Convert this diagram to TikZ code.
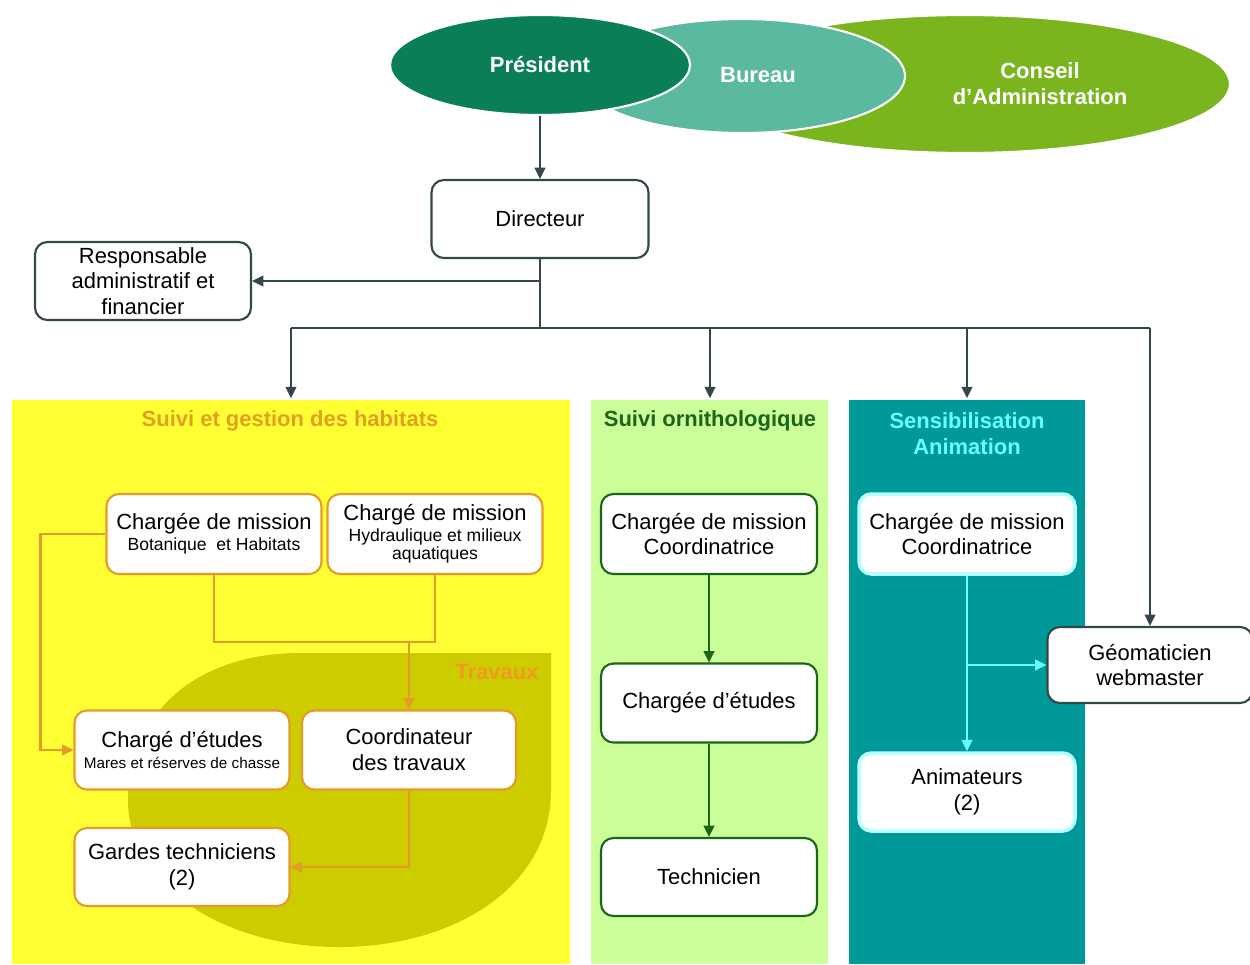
\documentclass[tikz,border=0pt]{standalone}
\usepackage{fontspec}
\setmainfont{Liberation Sans}
\usetikzlibrary{shapes.geometric,arrows.meta}

\definecolor{presgreen}{HTML}{0A7F56}
\definecolor{bureauteal}{HTML}{5BB9A0}
\definecolor{conseilgreen}{HTML}{7AB51E}
\definecolor{slate}{HTML}{32474A}
\definecolor{habyellow}{HTML}{FFFF33}
\definecolor{travolive}{HTML}{CCCC00}
\definecolor{habor}{HTML}{E59A2A}
\definecolor{habtitle}{HTML}{E3A020}
\definecolor{travor}{HTML}{F09A20}
\definecolor{ornlight}{HTML}{CCFF99}
\definecolor{orndark}{HTML}{1C661C}
\definecolor{sensteal}{HTML}{009999}
\definecolor{senscyan}{HTML}{66FFFF}
\definecolor{sensglow}{HTML}{B8FFFF}

\newcommand{\subline}[1]{{\fontsize{10}{12}\selectfont #1}}
\newcommand{\tinyline}[1]{{\fontsize{8.7}{10}\selectfont #1}}

\begin{document}
\begin{tikzpicture}[x=0.02cm,y=-0.02cm,
    font=\fontsize{12.5}{14.7}\selectfont,
    orgbox/.style={draw=slate,fill=white,line width=1.2pt,rounded corners=7pt,
      align=center,minimum width=4.32cm,minimum height=1.58cm,inner sep=2pt},
    habbox/.style={orgbox,draw=habor},
    ornbox/.style={orgbox,draw=orndark},
    sensbox/.style={orgbox,draw=sensglow,line width=2pt},
    boss/.style={ellipse,draw=white,line width=1.2pt,inner sep=0pt},
    panel/.style={anchor=north,minimum height=11.28cm,inner sep=0pt},
    title/.style={font=\fontsize{12.5}{14.7}\selectfont\bfseries,align=center},
    link/.style={draw=slate,line width=1.3pt,-{Triangle[length=6.5pt,width=6pt]}},
    bus/.style={draw=slate,line width=1.3pt},
    hablink/.style={link,draw=habor},
    habbus/.style={bus,draw=habor},
    ornlink/.style={link,draw=orndark},
    senslink/.style={link,draw=senscyan}]
  \useasboundingbox (0,0) rectangle (1250,964);

  % bureau, conseil, president
  \node[boss,fill=conseilgreen,minimum width=10.6cm,minimum height=2.76cm] (conseil) at (965,84) {};
  \node[boss,fill=bureauteal,minimum width=6.52cm,minimum height=2.28cm] (bureau) at (742,76) {};
  \node[boss,fill=presgreen,minimum width=6cm,minimum height=2cm,text=white,font=\fontsize{12.5}{14.7}\selectfont\bfseries] (president) at (540,65) {Président};
  \node[title,text=white] (bureautxt) at (758,75) {Bureau};
  \node[title,text=white] (conseiltxt) at (1040,84) {Conseil\\d'Administration};

  \node[orgbox,minimum width=4.34cm,minimum height=1.56cm] (dir) at (540,219) {Directeur};
  \node[orgbox,minimum height=1.56cm] (resp) at (143,281) {Responsable\\administratif et\\financier};

  % the three teams
  \node[panel,fill=habyellow,minimum width=11.16cm] (phab) at (291,400) {};
  \node[panel,fill=ornlight,minimum width=4.74cm] (porn) at (709.5,400) {};
  \node[panel,fill=sensteal,minimum width=4.72cm] (psens) at (967,400) {};

  \fill[travolive] (551,653) -- (551,790) .. controls (551,890) and (450,947) .. (340,947)
    .. controls (215,947) and (128,880) .. (128,800)
    .. controls (128,715) and (195,653) .. (300,653) -- cycle;

  \node[title,text=habtitle] (thab) at (290,421) {Suivi et gestion des habitats};
  \node[title,text=orndark] (torn) at (710,421) {Suivi ornithologique};
  \node[title,text=senscyan] (tsens) at (967,434) {Sensibilisation\\Animation};
  \node[title,text=travor] (travaux) at (497,672) {Travaux};

  \node[orgbox,minimum width=4.1cm,minimum height=1.52cm] (geo) at (1150,665) {Géomaticien\\webmaster};

  % arrows from the top
  \draw[link] (president.south) -- (dir.north);
  \draw[link] (dir.south) |- (resp.east);
  \coordinate (hub) at (540,328);
  \draw[bus] (dir.south) -- (hub);
  \draw[bus] (hub -| phab.north) -- (hub -| geo.north);
  \draw[link] (hub -| phab.north) -- ([yshift=1pt]phab.north);
  \draw[link] (hub -| 710,0) -- ([yshift=1pt]porn.north -| 710,0);
  \draw[link] (hub -| psens.north) -- ([yshift=1pt]psens.north);
  \draw[link] (hub -| geo.north) -- (geo.north);

  % habitats
  \node[habbox,minimum width=4.3cm,minimum height=1.6cm] (cmbot) at (214,534)
    {Chargée de mission\\[-3pt]\subline{Botanique\ \ et Habitats}};
  \node[habbox,minimum width=4.3cm,minimum height=1.6cm] (cmhyd) at (435,534)
    {Chargé de mission\\[-3pt]\subline{Hydraulique et milieux}\\[-4pt]\subline{aquatiques}};
  \node[habbox,minimum width=4.3cm] (ce) at (182,750)
    {Chargé d'études\\[-3pt]\tinyline{Mares et réserves de chasse}};
  \node[habbox,minimum width=4.28cm] (coord) at (409,750) {Coordinateur\\des travaux};
  \node[habbox,minimum width=4.3cm,minimum height=1.56cm] (gardes) at (182,867) {Gardes techniciens\\(2)};

  \draw[habbus] (cmbot.south) -- ++(0,67) coordinate (hbar) -| (cmhyd.south);
  \draw[hablink] (hbar -| coord.north) -- (coord.north);
  \draw[hablink] (cmbot.west) -- ++(-65,0) |- (ce.west);
  \draw[hablink] (coord.south) |- (gardes.east);

  % ornithologie
  \node[ornbox,minimum height=1.6cm] (ornco) at (709,534) {Chargée de mission\\Coordinatrice};
  \node[ornbox] (ornce) at (709,703) {Chargée d'études};
  \node[ornbox,minimum height=1.56cm] (tech) at (709,877) {Technicien};
  \draw[ornlink] (ornco.south) -- (ornce.north);
  \draw[ornlink] (ornce.south) -- (tech.north);

  % sensibilisation
  \node[sensbox,minimum height=1.6cm] (sensco) at (967,534) {Chargée de mission\\Coordinatrice};
  \node[sensbox,minimum height=1.56cm] (anim) at (967,792) {Animateurs\\(2)};
  \draw[senslink] (sensco.south) -- (anim.north);
  \draw[senslink] (sensco.south |- geo.west) -- (geo.west);
\end{tikzpicture}
\end{document}
